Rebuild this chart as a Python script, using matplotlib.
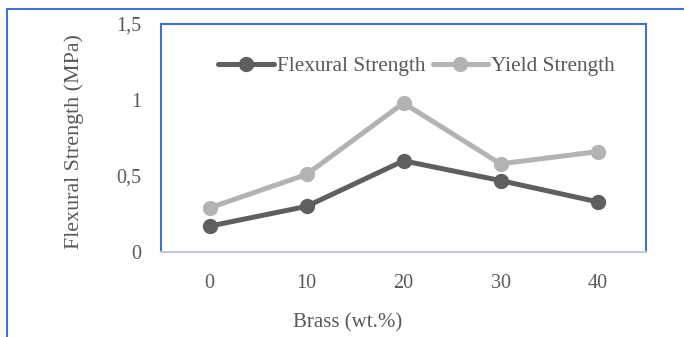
import matplotlib
matplotlib.use("Agg")
import matplotlib.pyplot as plt
from matplotlib.lines import Line2D

categories = ["0", "10", "20", "30", "40"]
flexural = [0.17, 0.30, 0.60, 0.47, 0.33]
yield_strength = [0.29, 0.51, 0.98, 0.58, 0.66]
yticks = [0, 0.5, 1.0, 1.5]
ytick_labels = ["0", "0,5", "1", "1,5"]

plt.rcParams['font.family'] = ['Liberation Serif', 'DejaVu Serif']
text_color = "#595959"
blue = "#4472C4"

W, H = 684, 337
fig = plt.figure(figsize=(W/100, H/100), dpi=100)
ax = fig.add_axes([161/W, (H-252)/H, (646-161)/W, (252-24)/H])

x = list(range(len(categories)))
ax.plot(x, flexural, color="#5f5f5f", lw=3.6, marker="o", ms=10,
        solid_capstyle="round", label="Flexural Strength")
ax.plot(x, yield_strength, color="#b3b3b3", lw=3.6, marker="o", ms=10,
        solid_capstyle="round", label="Yield Strength")

ax.set_xlim(-0.5, len(categories) - 0.5)
ax.set_ylim(0, 1.5)
ax.set_xticks(x)
ax.set_xticklabels(categories)
ax.set_yticks(yticks)
ax.set_yticklabels(ytick_labels)
ax.tick_params(axis="both", length=0, labelsize=14.5, colors=text_color)
ax.tick_params(axis="y", pad=14)
ax.tick_params(axis="x", pad=16)

for s in ["left", "top", "right"]:
    ax.spines[s].set_color(blue)
    ax.spines[s].set_linewidth(1.5)
ax.spines["bottom"].set_color("#c3c9d6")
ax.spines["bottom"].set_linewidth(1.5)

ax.set_ylabel("Flexural Strength (MPa)", fontsize=15.8, color=text_color)
ax.yaxis.set_label_coords(-0.158, 0.485)
ax.set_xlabel("Brass (wt.%)", fontsize=15, color=text_color)
ax.xaxis.set_label_coords(0.384, -0.268)

leg = ax.legend(loc="center", bbox_to_anchor=(0.527, 0.815), ncol=2, frameon=False,
                fontsize=15.3, handlelength=2.6, handletextpad=0.15,
                columnspacing=0.35, borderpad=0, labelcolor=text_color)

# outer chart frame (left and top edges visible)
fig.add_artist(Line2D([7/W, 7/W], [0, (H-9)/H], transform=fig.transFigure,
                      color=blue, lw=1.5))
fig.add_artist(Line2D([7/W, 1], [(H-9)/H, (H-9)/H], transform=fig.transFigure,
                      color=blue, lw=1.5))

fig.savefig("out.png", dpi=100)
